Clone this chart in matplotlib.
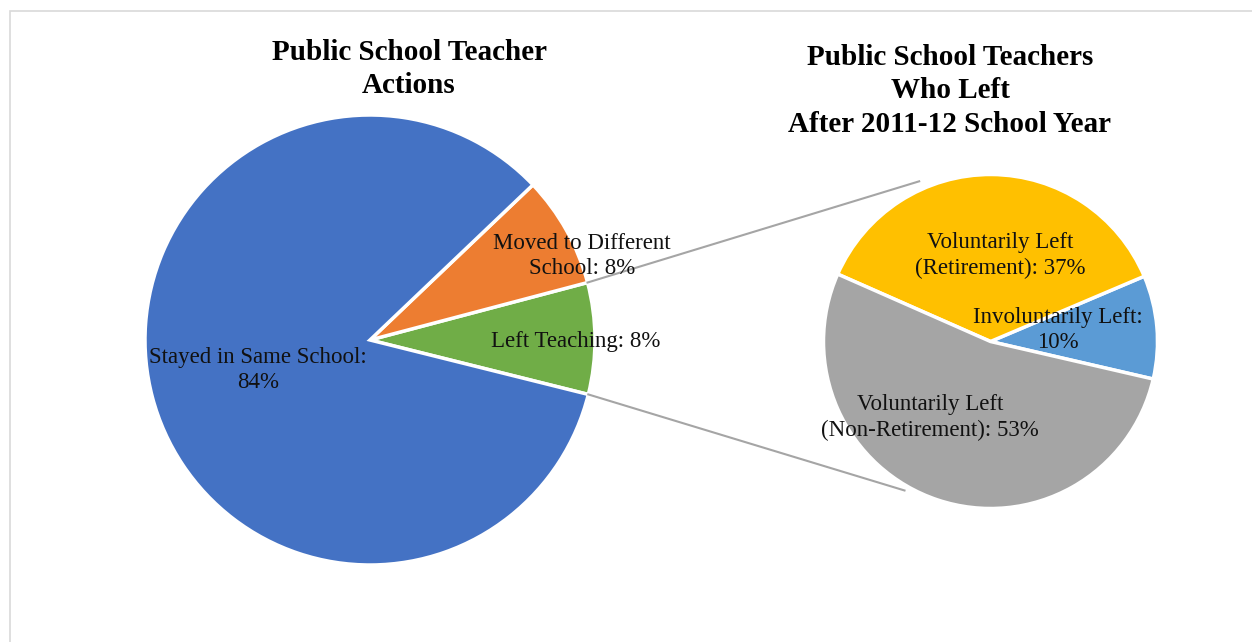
import numpy as np
import matplotlib.pyplot as plt
from matplotlib.patches import Rectangle

# data
main_labels = ["Left Teaching: 8%", "Moved to Different\nSchool: 8%", "Stayed in Same School:\n84%"]
main_values = [8, 8, 84]
main_colors = ["#70AD47", "#ED7D31", "#4472C4"]

left_labels = ["Involuntarily Left:\n10%", "Voluntarily Left\n(Retirement): 37%",
               "Voluntarily Left\n(Non-Retirement): 53%"]
left_values = [10, 37, 53]
left_colors = ["#5B9BD5", "#FFC000", "#A5A5A5"]

W, H = 1252, 642
fig = plt.figure(figsize=(W / 100, H / 100), dpi=100)
ax = fig.add_axes([0, 0, 1, 1])

serif = ["Liberation Serif", "DejaVu Serif"]

# frame
ax.add_patch(Rectangle((10, -10), W + 20, H - 11 + 10, fill=False,
                       edgecolor="#D9D9D9", linewidth=1.2))

c1, r1, start1 = (370, H - 340), 225, -14
c2, r2, start2 = (990.5, H - 341.5), 167, -13

ax.pie(main_values, colors=main_colors, startangle=start1, center=c1, radius=r1,
       wedgeprops=dict(edgecolor="white", linewidth=2.5), frame=True)
ax.pie(left_values, colors=left_colors, startangle=start2, center=c2, radius=r2,
       wedgeprops=dict(edgecolor="white", linewidth=2.5), frame=True)
ax.set_xlim(0, W)
ax.set_ylim(0, H)
ax.set_aspect("equal")
ax.axis("off")

# connector lines from the "left teaching" slice
a0 = np.deg2rad(start1)
a1 = np.deg2rad(start1 + main_values[0] * 3.6)
p_top = (c1[0] + r1 * np.cos(a1), c1[1] + r1 * np.sin(a1))
p_bot = (c1[0] + r1 * np.cos(a0), c1[1] + r1 * np.sin(a0))
q_top = (c2[0] + 1.05 * r2 * np.cos(np.deg2rad(114)), c2[1] + 1.05 * r2 * np.sin(np.deg2rad(114)))
q_bot = (c2[0] + 1.03 * r2 * np.cos(np.deg2rad(-120)), c2[1] + 1.03 * r2 * np.sin(np.deg2rad(-120)))
ax.plot([p_top[0], q_top[0]], [p_top[1], q_top[1]], color="#A5A5A5", lw=1.5)
ax.plot([p_bot[0], q_bot[0]], [p_bot[1], q_bot[1]], color="#A5A5A5", lw=1.5)

# slice labels
main_pos = [(576, 341), (582, 256), (258, 370)]
for lab, (x, y) in zip(main_labels, main_pos):
    ax.text(x, H - y, lab, ha="center", va="center", fontsize=16.5,
            family=serif, color="#111111", linespacing=1.3)
left_pos = [(1058, 330), (1000, 256), (930, 418)]
for lab, (x, y) in zip(left_labels, left_pos):
    ax.text(x, H - y, lab, ha="center", va="center", fontsize=16.5,
            family=serif, color="#111111", linespacing=1.3)

# titles
ax.text(409, H - 69, "Public School Teacher\nActions", ha="center", va="center",
        fontsize=21, fontweight="bold", family=serif, linespacing=1.3)
ax.text(950, H - 91, "Public School Teachers\nWho Left\nAfter 2011-12 School Year",
        ha="center", va="center", fontsize=21, fontweight="bold", family=serif,
        linespacing=1.3)

fig.savefig("out.png", dpi=100)
